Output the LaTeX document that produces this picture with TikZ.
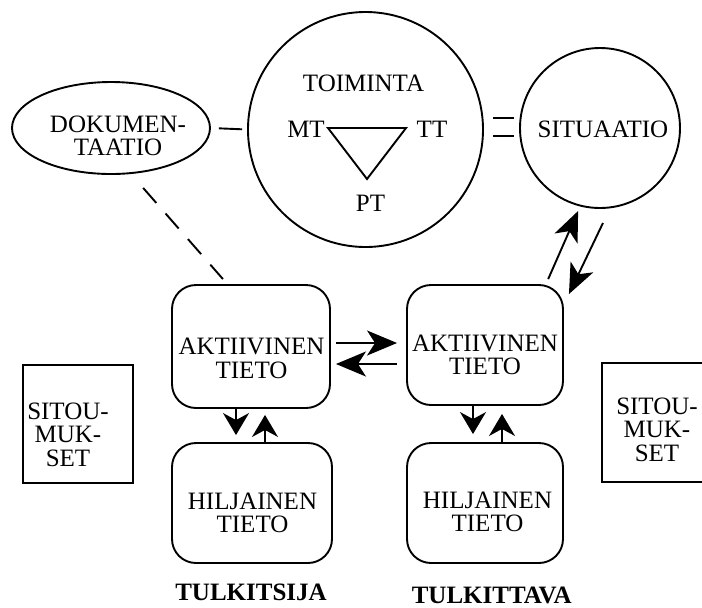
\documentclass[tikz,border=0pt]{standalone}
\usepackage{fontspec}
\setmainfont{Liberation Serif}
\usetikzlibrary{arrows.meta,shapes.geometric}
\begin{document}
\begin{tikzpicture}[x=0.5pt,y=-0.5pt,
  line width=0.95pt,
  txt/.style={inner sep=0pt, align=center, font=\fontsize{12.5pt}{11.8pt}\selectfont},
  rbox/.style={draw, rounded corners=12pt, inner sep=0pt},
  sbox/.style={draw, inner sep=0pt, minimum width=55pt, minimum height=59pt},
  bigarr/.style={-{Stealth[length=15pt,width=12.5pt,inset=4pt]}},
  smallarr/.style={-{Stealth[length=11pt,width=13pt,inset=3.5pt]}},
]
\useasboundingbox (0,0) rectangle (702,607);
\clip (0,0) rectangle (702,607);

% top row
\node[draw, ellipse, minimum width=99pt, minimum height=46pt, inner sep=0pt] (doc) at (111,128) {};
\node[txt] (doct) at (118,136) {DOKUMEN-\\TAATIO};
\node[draw, circle, minimum size=117.5pt, inner sep=0pt] (toim) at (365.5,129.5) {};
\node[txt] (toimt) at (363.5,83.5) {TOIMINTA};
\coordinate (tmt) at (328,128);
\coordinate (ttt) at (406,128);
\coordinate (tpt) at (367,179);
\draw[line join=miter] (tmt) -- (ttt) -- (tpt) -- cycle;
\node[txt] (mt) at (306,129.5) {MT};
\node[txt] (tt) at (432,129.5) {TT};
\node[txt] (pt) at (370.5,203.5) {PT};
\node[draw, circle, minimum size=80pt, inner sep=0pt] (sit) at (600,128) {};
\node[txt] (sitt) at (603,129.5) {SITUAATIO};

% boxes
\node[rbox, minimum width=79pt, minimum height=61.5pt] (a1) at (251,346.5) {};
\node[txt] (a1t) at (251.5,358.5) {AKTIIVINEN\\TIETO};
\node[rbox, minimum width=80pt, minimum height=60pt] (h1) at (252,503) {};
\node[txt] (h1t) at (252.5,513) {HILJAINEN\\TIETO};
\node[rbox, minimum width=78pt, minimum height=60pt] (a2) at (485,345) {};
\node[txt] (a2t) at (485,355) {AKTIIVINEN\\TIETO};
\node[rbox, minimum width=78pt, minimum height=60pt] (h2) at (485,503) {};
\node[txt] (h2t) at (487.5,512) {HILJAINEN\\TIETO};

\node[sbox] (s1) at (78,424) {};
\node[txt] (s1t) at (68,434.5) {SITOU-\\MUK-\\SET};
\node[sbox, minimum height=59.5pt] (s2) at (657,422.5) {};
\node[txt] (s2t) at (657,429.5) {SITOU-\\MUK-\\SET};

\node[txt, font=\fontsize{12.5pt}{11.8pt}\selectfont\bfseries] (tsija) at (251,592) {TULKITSIJA};
\node[txt, font=\fontsize{12.5pt}{11.8pt}\selectfont\bfseries] (ttava) at (491.7,595) {TULKITTAVA};

% connectors
\draw[shorten <=4pt, shorten >=2.5pt] (doc.east) -- (toim.west);
\draw[shorten <=4.5pt, shorten >=2.5pt] ([yshift=5.75pt]toim.east) -- ([yshift=5pt]sit.west);
\draw[shorten <=4.5pt, shorten >=2.5pt] ([yshift=-3.25pt]toim.east) -- ([yshift=-4pt]sit.west);
\draw[dash pattern=on 10pt off 7pt, shorten <=8.6pt, shorten >=3.3pt] ([xshift=10.4pt]doc.south) -- ([xshift=-11.85pt]a1.north);

\draw[bigarr, shorten <=2.7pt, shorten >=1.1pt] ([xshift=30.5pt]a2.north) -- ([xshift=-10.5pt]sit.south);
\draw[bigarr, shorten <=7.75pt] ([xshift=4.85pt]sit.south) -- ([shift={(2.5pt,-5pt)}]a2.north east);

\draw[bigarr, shorten <=2.5pt, shorten >=4.5pt] ([yshift=1.75pt]a1.east) -- ([yshift=1pt]a2.west);
\draw[bigarr, shorten <=4.5pt, shorten >=2.5pt] ([yshift=-9.5pt]a2.west) -- ([yshift=-8.75pt]a1.east);

\draw[smallarr, shorten >=3.5pt] ([xshift=-7.5pt]a1.south) -- ([xshift=-8pt]h1.north);
\draw[smallarr, shorten >=3pt] ([xshift=6.5pt]h1.north) -- ([xshift=7pt]a1.south);
\draw[smallarr, shorten >=4pt] ([xshift=-6pt]a2.south) -- ([xshift=-6pt]h2.north);
\draw[smallarr, shorten >=4pt] ([xshift=8.5pt]h2.north) -- ([xshift=8.5pt]a2.south);
\end{tikzpicture}
\end{document}
